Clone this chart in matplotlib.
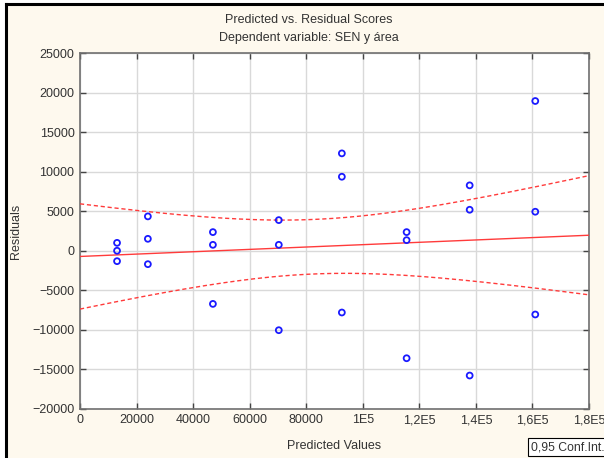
import numpy as np
import matplotlib
matplotlib.use("Agg")
import matplotlib.pyplot as plt
from matplotlib.patches import Rectangle
from matplotlib.lines import Line2D

plt.rcParams['font.family'] = ['Liberation Sans', 'DejaVu Sans']

# predicted values (x) and residuals (y)
predicted = [13100, 13100, 13100,
             24000, 24000, 24000,
             47000, 47000, 47000,
             70300, 70300, 70300,
             92600, 92600, 92600,
             115500, 115500, 115500,
             137800, 137800, 137800,
             161000, 161000, 161000]
residuals = [1000, 0, -1320,
             4350, 1510, -1700,
             2360, 750, -6730,
             3880, 750, -10060,
             12330, 9370, -7820,
             2360, 1340, -13610,
             8280, 5190, -15800,
             18960, 4940, -8070]

xticks = [0, 20000, 40000, 60000, 80000, 100000, 120000, 140000, 160000, 180000]
xtick_labels = ["0", "20000", "40000", "60000", "80000", "1E5", "1,2E5", "1,4E5", "1,6E5", "1,8E5"]
yticks = [-20000, -15000, -10000, -5000, 0, 5000, 10000, 15000, 20000, 25000]

bg = '#fef9ee'
txt = '#333333'

fig = plt.figure(figsize=(6.04, 4.58), dpi=100, facecolor='white')
# cream panel with black frame on left and top
fig.add_artist(Rectangle((7/604, 0), 1, 1 - 5/458, transform=fig.transFigure,
                         facecolor=bg, edgecolor='none', zorder=-10))
fig.add_artist(Line2D([6/604, 6/604], [0, 1 - 4/458], transform=fig.transFigure,
                      color='black', lw=2.2, zorder=-5))
fig.add_artist(Line2D([6/604, 1], [1 - 4/458, 1 - 4/458], transform=fig.transFigure,
                      color='black', lw=2.2, zorder=-5))

ax = fig.add_axes([80/604, 49.3/458, 509/604, 355.4/458])
ax.set_facecolor('white')
ax.set_zorder(2)

x = np.array(predicted, dtype=float)
y = np.array(residuals, dtype=float)

# regression line with 0.95 confidence band
b, a = np.polyfit(x, y, 1)
n = len(x)
s = np.sqrt(np.sum((y - (a + b * x)) ** 2) / (n - 2))
t = 2.074
xx = np.linspace(0, 180000, 200)
yy = a + b * xx
half = t * s * np.sqrt(1 / n + (xx - x.mean()) ** 2 / np.sum((x - x.mean()) ** 2))

ax.plot(xx, yy, color='#ff3b3b', lw=1.0, zorder=3)
ax.plot(xx, yy + half, color='#ff3b3b', lw=1.0, ls=(0, (3, 2)), zorder=3)
ax.plot(xx, yy - half, color='#ff3b3b', lw=1.0, ls=(0, (3, 2)), zorder=3)

ax.scatter(x, y, s=18, facecolors='none', edgecolors='#1a1aff', linewidths=1.3, zorder=4)

ax.set_xlim(0, 180000)
ax.set_ylim(-20000, 25000)
ax.set_xticks(xticks)
ax.set_xticklabels(xtick_labels)
ax.set_yticks(yticks)
ax.grid(True, color='#d9d9d9', lw=1)
ax.set_axisbelow(True)
ax.tick_params(direction='in', length=4, width=1, color='#444444', labelsize=9,
               labelcolor=txt, top=True, right=True, pad=4)
for sp in ax.spines.values():
    sp.set_color('#707070')
    sp.set_linewidth(1.2)

ax.set_xlabel("Predicted Values", fontsize=9, color=txt, labelpad=10)
ax.set_ylabel("Residuals", fontsize=9, color=txt, labelpad=7)

fig.text(0.512, 1 - 20/458, "Predicted vs. Residual Scores", ha='center', va='center',
         fontsize=9, color=txt)
fig.text(0.512, 1 - 38/458, "Dependent variable: SEN y área", ha='center', va='center',
         fontsize=9, color=txt)

fig.text(531/604, 1 - 447/458, "0,95 Conf.Int.", ha='left', va='center', fontsize=8.8,
         color=txt, bbox=dict(boxstyle='square,pad=0.25', facecolor='white',
                              edgecolor='black', lw=0.8))

fig.savefig("out.png", dpi=100, facecolor=fig.get_facecolor())
